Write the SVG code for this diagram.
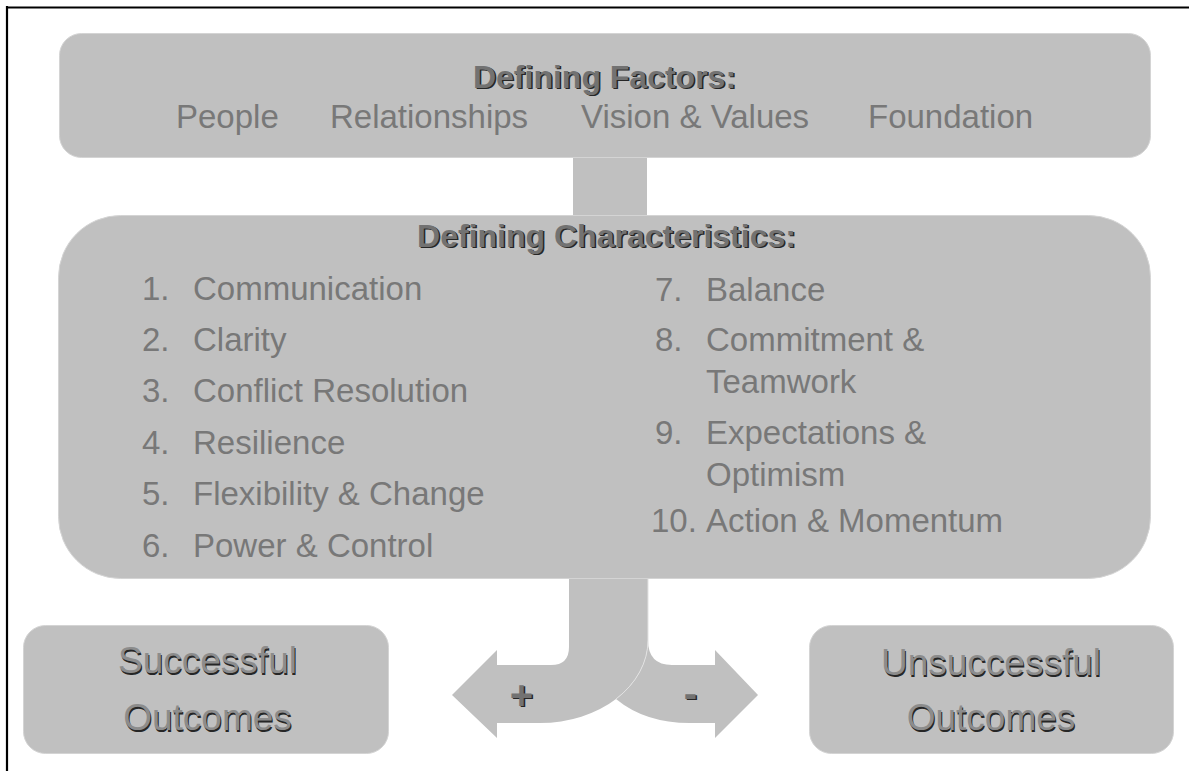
<svg xmlns="http://www.w3.org/2000/svg" width="1189" height="771" viewBox="0 0 1189 771">
<style>
.box{fill:#c0c0c0;stroke:#d4d4d4;stroke-width:1}
.t{font-family:"Liberation Sans",Arial,sans-serif;font-size:33px;fill:#787878}
.h{font-family:"Liberation Sans",Arial,sans-serif;font-size:32px;font-weight:bold;text-anchor:middle}
.pm{font-family:"Liberation Sans",Arial,sans-serif;font-size:40px;font-weight:bold;text-anchor:middle}
.o{font-family:"Liberation Sans",Arial,sans-serif;font-size:37px;text-anchor:middle}
.sh{fill:#262626}
.fg{fill:#727272}
.ofg{fill:#8c8c8c}
</style>
<rect width="1189" height="771" fill="#ffffff"/>
<path d="M6 7.5 H1189 M7 6 V771" stroke="#000" stroke-width="2.2" fill="none"/>

<g id="connectors">
  <rect x="573" y="157" width="74" height="59" fill="#c0c0c0"/>
  <path d="M569 577 H648 V640 A108 83 0 0 1 540 723 H497 V738 L452 695 L497 650 V665 H551 Q569 665 569 647 Z" fill="#c0c0c0"/>
  <path d="M648 640 Q648 665 672 665 H715 V650 L758 695 L715 738 V723 H690 Q645 723 616 699 A108 83 0 0 0 648 640 Z" fill="#c0c0c0"/>
  <path d="M648 579 V640 A108 83 0 0 1 616 699" fill="none" stroke="#e2e2e2" stroke-width="1"/>
  <text class="pm sh" x="523" y="710">+</text>
  <text class="pm fg" x="521.5" y="708.5">+</text>
  <text class="pm sh" x="692" y="708">-</text>
  <text class="pm fg" x="690.5" y="706.5">-</text>
</g>

<g id="factors">
  <rect class="box" x="59.5" y="33.5" width="1091" height="124" rx="22"/>
  <text class="h sh" x="606" y="89">Defining Factors:</text>
  <text class="h fg" x="604.5" y="87.5">Defining Factors:</text>
  <text class="t" x="176" y="128">People</text>
  <text class="t" x="330" y="128">Relationships</text>
  <text class="t" x="581" y="128">Vision &amp; Values</text>
  <text class="t" x="868" y="128">Foundation</text>
</g>

<g id="characteristics">
  <rect class="box" x="58.5" y="215.5" width="1092" height="363" rx="62"/>
  <text class="h sh" x="608" y="248">Defining Characteristics:</text>
  <text class="h fg" x="606.5" y="246.5">Defining Characteristics:</text>
  <text class="t" x="142" y="300">1.</text><text class="t" x="193" y="300">Communication</text>
  <text class="t" x="142" y="351">2.</text><text class="t" x="193" y="351">Clarity</text>
  <text class="t" x="142" y="402">3.</text><text class="t" x="193" y="402">Conflict Resolution</text>
  <text class="t" x="142" y="454">4.</text><text class="t" x="193" y="454">Resilience</text>
  <text class="t" x="142" y="505">5.</text><text class="t" x="193" y="505">Flexibility &amp; Change</text>
  <text class="t" x="142" y="557">6.</text><text class="t" x="193" y="557">Power &amp; Control</text>
  <text class="t" x="655" y="301">7.</text><text class="t" x="706" y="301">Balance</text>
  <text class="t" x="655" y="351">8.</text><text class="t" x="706" y="351">Commitment &amp;</text>
  <text class="t" x="706" y="393">Teamwork</text>
  <text class="t" x="655" y="444">9.</text><text class="t" x="706" y="444">Expectations &amp;</text>
  <text class="t" x="706" y="486">Optimism</text>
  <text class="t" x="651" y="532">10.</text><text class="t" x="706" y="532">Action &amp; Momentum</text>
</g>

<g id="successful">
  <rect class="box" x="23.5" y="625.5" width="365" height="128" rx="22"/>
  <text class="o sh" x="208.5" y="674.5">Successful</text>
  <text class="o ofg" x="207.5" y="673">Successful</text>
  <text class="o sh" x="208.5" y="731.5">Outcomes</text>
  <text class="o ofg" x="207.5" y="730">Outcomes</text>
</g>

<g id="unsuccessful">
  <rect class="box" x="809.5" y="625.5" width="364" height="128" rx="22"/>
  <text class="o sh" x="992" y="676.5">Unsuccessful</text>
  <text class="o ofg" x="991" y="675">Unsuccessful</text>
  <text class="o sh" x="992" y="731.5">Outcomes</text>
  <text class="o ofg" x="991" y="730">Outcomes</text>
</g>
</svg>
